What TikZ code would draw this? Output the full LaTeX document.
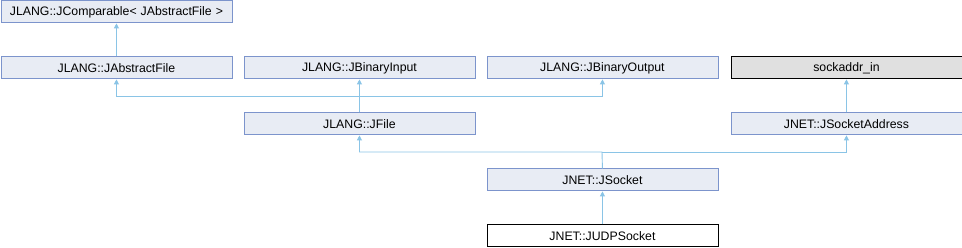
\documentclass[tikz,border=0pt]{standalone}
\usepackage{fontspec}
\setmainfont{Liberation Sans}
\usetikzlibrary{arrows.meta}
\definecolor{boxfill}{RGB}{232,236,244}
\definecolor{boxline}{RGB}{124,148,204}
\definecolor{edgecol}{RGB}{138,196,230}
\definecolor{grayfill}{RGB}{224,224,224}
\tikzset{
  cls/.style={draw=boxline, fill=boxfill, line width=0.9pt, minimum width=231pt, minimum height=22pt, inner sep=0pt, font=\fontsize{12.3}{14}\selectfont, anchor=north west},
  ext/.style={cls, draw=black, fill=grayfill},
  cur/.style={cls, draw=black, fill=white},
  inh/.style={draw=edgecol, line width=0.9pt, -{Triangle[width=5pt,length=5pt]}},
}
\begin{document}
\begin{tikzpicture}[x=1pt,y=-1pt]
\useasboundingbox (0,0) rectangle (962,248);
\node[cls] (comp) at (0.5,0.5) {JLANG::JComparable<\hspace{4pt}JAbstractFile\hspace{4pt}>};
\node[cls] (abs) at (0.5,56.5) {JLANG::JAbstractFile};
\node[cls] (bin) at (243.5,56.5) {JLANG::JBinaryInput};
\node[cls] (bout) at (486.5,56.5) {JLANG::JBinaryOutput};
\node[ext] (sock) at (730.5,56.5) {sockaddr\_in};
\node[cls] (file) at (243.5,112.5) {JLANG::JFile};
\node[cls] (saddr) at (730.5,112.5) {JNET::JSocketAddress};
\node[cls] (jsock) at (486.5,168.5) {JNET::JSocket};
\node[cur] (udp) at (486.5,224.5) {JNET::JUDPSocket};
\coordinate (m1) at (359,96);
\coordinate (m2) at (602,152);
\draw[inh] (abs.north) -- (comp.south);
\draw[inh] (saddr.north) -- (sock.south);
\draw[inh] (udp.north) -- (jsock.south);
\draw[inh] (file.north) -- (bin.south);
\draw[inh] (m1) -| (abs.south);
\draw[inh] (m1) -| (bout.south);
\draw[inh] (jsock.north) -- (m2) -| (file.south);
\draw[inh] (m2) -| (saddr.south);
\end{tikzpicture}
\end{document}
